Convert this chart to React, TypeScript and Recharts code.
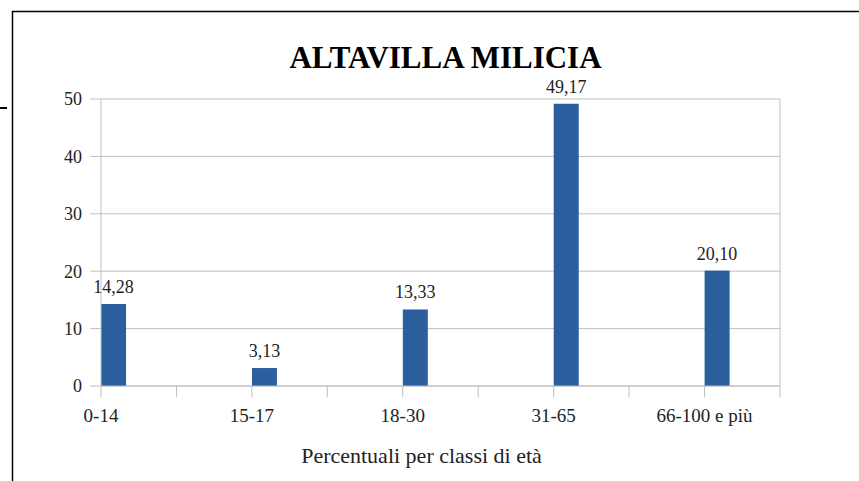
import React from 'react';
import { BarChart, Bar, XAxis, YAxis, CartesianGrid, ReferenceLine, Label } from 'recharts';

const categories = ['0-14', '15-17', '18-30', '31-65', '66-100 e più'];
const values = [14.28, 3.13, 13.33, 49.17, 20.1];
const yTicks = [0, 10, 20, 30, 40, 50];
const title = 'ALTAVILLA MILICIA';
const xTitle = 'Percentuali per classi di età';

const data = categories.map((c, i) => ({ idx: i, name: c, value: values[i] }));
const xTicks: number[] = [];
for (let i = 0; i <= categories.length * 2 - 1; i++) xTicks.push(i / 2);

const FONT = '"Liberation Serif", "Times New Roman", serif';
const BAR = '#2A5E9C';
const GRID = '#BFBFBF';
const TEXT = '#222222';

const fmt = (v: number) => v.toFixed(2).replace('.', ',');

const BarShape = (props: any) => {
  const { x, y, width, height } = props;
  return <rect x={x + width / 2} y={y} width={width} height={height} fill={BAR} />;
};

const BarLabel = (props: any) => {
  const { x, y, width, value } = props;
  return (
    <text
      x={x + width}
      y={y - 11}
      textAnchor="middle"
      style={{ fontFamily: FONT, fontSize: 18, fill: TEXT }}
    >
      {fmt(value)}
    </text>
  );
};

const xTickStyle = { fontFamily: FONT, fontSize: 19, fill: TEXT };
const yTickStyle = { fontFamily: FONT, fontSize: 18, fill: TEXT };

export default function App() {
  return (
    <div style={{ position: 'absolute', left: 0, top: 0, width: 859, height: 481, background: '#fff' }}>
      <BarChart
        width={859}
        height={481}
        data={data}
        margin={{ top: 99, right: 79, bottom: 0, left: 41 }}
        style={{ fontFamily: FONT }}
      >
        <CartesianGrid vertical={false} stroke={GRID} strokeWidth={1} />
        <XAxis
          dataKey="idx"
          type="number"
          domain={[0, 4.5]}
          ticks={xTicks}
          interval={0}
          height={95}
          stroke={GRID}
          tickSize={11}
          tickMargin={12}
          tickFormatter={(v: number) => (Number.isInteger(v) ? categories[v] : '')}
          tick={{ style: xTickStyle, fontFamily: FONT, fontSize: 19, fill: TEXT }}
        >
          <Label
            value={xTitle}
            position="insideBottom"
            offset={18}
            dx={-19}
            style={{ fontFamily: FONT, fontSize: 22, fill: TEXT }}
          />
        </XAxis>
        <YAxis
          type="number"
          domain={[0, 50]}
          ticks={yTicks}
          width={60}
          stroke={GRID}
          tickSize={11}
          tickMargin={8}
          tick={{ style: yTickStyle, fontFamily: FONT, fontSize: 18, fill: TEXT }}
        />
        <ReferenceLine x={4.5} stroke={GRID} strokeWidth={1} />
        <Bar
          dataKey="value"
          barSize={25}
          fill={BAR}
          shape={BarShape}
          label={BarLabel}
          isAnimationActive={false}
        />
      </BarChart>
      <svg
        width={859}
        height={481}
        style={{ position: 'absolute', left: 0, top: 0, pointerEvents: 'none' }}
      >
        <line x1={12} y1={11.5} x2={859} y2={11.5} stroke="#000" strokeWidth={1.5} />
        <line x1={12.5} y1={11} x2={12.5} y2={481} stroke="#000" strokeWidth={1.5} />
        <line x1={0} y1={108} x2={7} y2={108} stroke="#000" strokeWidth={2} />
        <text
          x={445.5}
          y={68}
          textAnchor="middle"
          style={{ fontFamily: FONT, fontWeight: 'bold', fontSize: 31, fill: '#000' }}
        >
          {title}
        </text>
      </svg>
    </div>
  );
}
